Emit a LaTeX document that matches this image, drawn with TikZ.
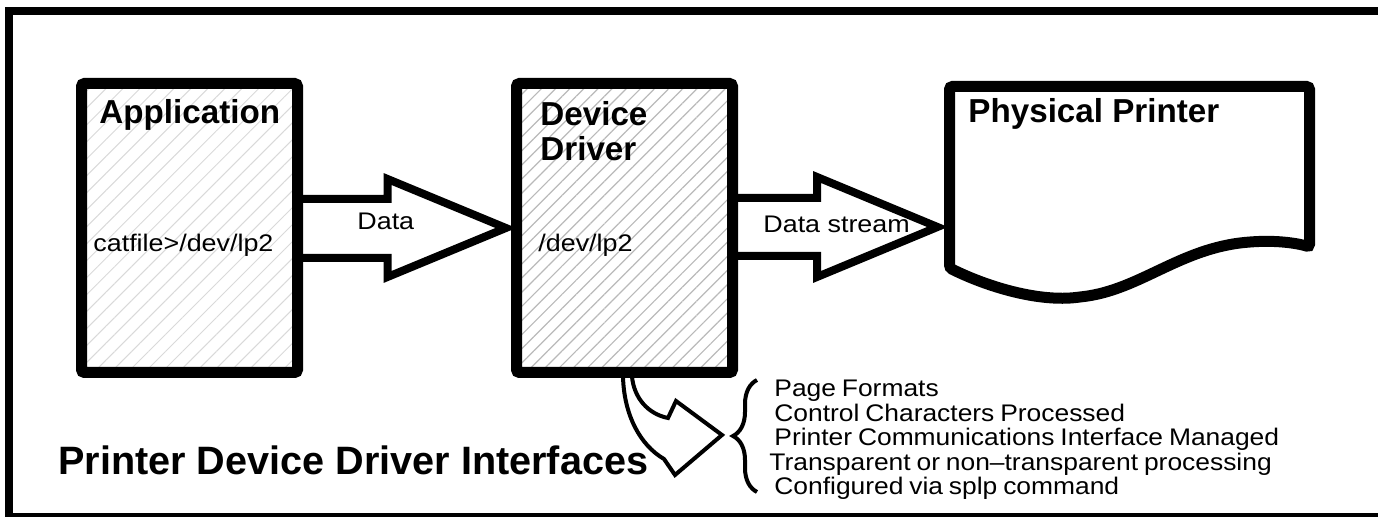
\documentclass[tikz,border=0pt]{standalone}
\usepackage{fontspec}
\setmainfont{Liberation Sans}
\newfontfamily\widesans[FakeStretch=1.12]{Liberation Sans}
\newfontfamily\listsans[FakeStretch=1.1,WordSpace=0.8]{Liberation Sans}
\usetikzlibrary{patterns.meta,decorations.pathreplacing,calc}

\tikzset{
	unitbox/.style={
		draw=black,           % black border
		line width=5.5pt,     % heavy outline
		rounded corners=1.5pt,% slight rounding
		inner sep=0pt,
		minimum width=108pt,
		minimum height=144.5pt},
	boxtitle/.style={font=\fontsize{16.6}{17.5}\selectfont\bfseries, inner sep=0pt, align=left},
	plaintext/.style={font=\widesans\fontsize{12}{14}\selectfont, inner sep=0pt},
	blockarrow/.style={draw=black, line width=4pt, line join=miter},
}

\begin{document}
\begin{tikzpicture}[x=0.5pt, y=-0.5pt]
	\useasboundingbox (0,0) rectangle (1378,517);
	% outer frame (runs off the right edge)
	\draw[line width=4pt] (9,11) rectangle (1420,517.5);
	
	% the two boxes
	\node[unitbox,
	pattern={Lines[angle=45,distance=6pt,line width=0.5pt]},
	pattern color=gray!30] (app) at (189.5,228) {};
	\node[unitbox,
	pattern={Lines[angle=45,distance=5pt,line width=0.6pt]},
	pattern color=gray!55] (drv) at (624.5,228) {};
	
	% printer as a torn sheet
	\draw[line width=5.5pt, rounded corners=1.5pt] (949.5,86.5) -- (949.5,268)
	.. controls (990,288) and (1040,302) .. (1080,297)
	.. controls (1140,290) and (1180,248) .. (1250,242)
	.. controls (1280,240) and (1300,244) .. (1309.5,247)
	-- (1309.5,86.5) -- cycle;
	\coordinate (prn) at (949.5,227);
	
	\node[boxtitle, anchor=base west] (apptxt) at (99,124) {Application};
	\node[plaintext, anchor=base west] (appcmd) at (93,252) {catfile>/dev/lp2};
	\node[boxtitle, anchor=north west] (drvtxt) at (540,101) {Device\\Driver};
	\node[plaintext, anchor=base west] (drvdev) at (538,252) {/dev/lp2};
	\node[boxtitle, anchor=base west] (prntxt) at (968,123) {Physical Printer};
	
	% block arrows
	\draw[blockarrow] ($(app.east)+(0,-29)$) -- (387.5,199) -- (387.5,179)
	-- ($(drv.west)+(-10,0)$) -- (387.5,277) -- (387.5,258) -- ($(app.east)+(0,30)$);
	\node[plaintext, anchor=base west] (datatxt) at (357,230) {Data};
	
	\draw[blockarrow] ($(drv.east)+(0,-30)$) -- (817,198) -- (817,177)
	-- ($(prn)+(-12,0)$) -- (817,277) -- (817,256) -- ($(drv.east)+(0,28)$);
	\node[plaintext, anchor=base west] (streamtxt) at (763,233) {Data stream};
	
	% curved arrow to the list
	\coordinate (brc) at (722,435);
	\draw[line width=2pt, line join=miter] ($(drv.south)+(7.5,3.5)$)
	.. controls (634,398) and (648,414) .. (668,418) -- (676,401) -- (brc)
	-- (675,475) -- (664,459)
	.. controls (640,445) and (624,415) .. ($(drv.south)+(-1.5,3.5)$);
	
	\draw[line width=2pt, decorate, decoration={brace, amplitude=12pt}] (757,492) -- (757,380);
	\node[anchor=north west, align=left, inner sep=0pt,
	font=\listsans\fontsize{12}{12.25}\selectfont] (feats) at (774,380)
	{Page Formats\\
		Control Characters Processed\\
		Printer Communications Interface Managed\\
		\hspace*{-2.5pt}Transparent or non–transparent processing\\
		Configured via splp command};
	
	\node[anchor=base west, inner sep=0pt, font=\fontsize{19.8}{22}\selectfont\bfseries] (title) at (58,475) {Printer Device Driver Interfaces};
\end{tikzpicture}
\end{document}
